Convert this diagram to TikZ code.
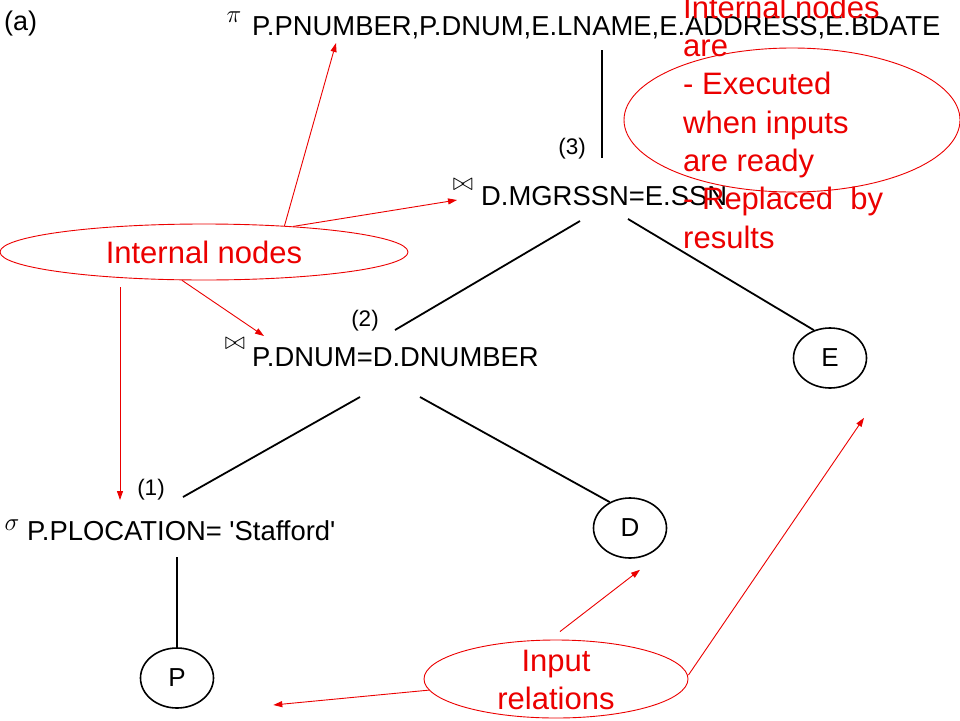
\documentclass[tikz,border=0pt]{standalone}
\usepackage{fontspec}
\setmainfont{Liberation Sans}
\usetikzlibrary{shapes.geometric,arrows.meta}
\definecolor{notered}{RGB}{235,0,0}

\begin{document}
\begin{tikzpicture}[x=1pt,y=-1pt,
    optext/.style={anchor=base west,inner sep=0pt,font=\fontsize{27.4}{31}\selectfont},
    opsym/.style={inner sep=0pt,font=\fontsize{25}{28}\selectfont},
    steplabel/.style={inner sep=0pt,font=\fontsize{22.5}{25}\selectfont},
    relnode/.style={draw,line width=1.6pt,ellipse,minimum width=73pt,minimum height=60pt,inner sep=0pt,font=\fontsize{26}{29}\selectfont},
    treeline/.style={line width=1.8pt},
    notetext/.style={text=notered,font=\fontsize{31}{38.3}\selectfont},
    noteshape/.style={draw=notered,line width=0.9pt,ellipse,inner sep=0pt},
    notearrow/.style={draw=notered,line width=0.9pt,-{Triangle[length=9pt,width=6pt]}}]
    \useasboundingbox (0,0) rectangle (960,720);

    % Query tree
    \node[anchor=base west,inner sep=0pt,font=\fontsize{27}{30}\selectfont] (fig) at (4,30) {(a)};
    \node[optext] (proj) at (252,35) {P.PNUMBER,P.DNUM,E.LNAME,E.ADDRESS,E.BDATE};
    \node[opsym] (projsym) at (234,17) {$\pi$};
    \node[optext] (joinB) at (481,205) {D.MGRSSN=E.SSN};
    \node[opsym] (joinBsym) at (463,185) {$\bowtie$};
    \node[optext] (joinA) at (252,366) {P.DNUM=D.DNUMBER};
    \node[opsym] (joinAsym) at (235,344) {$\bowtie$};
    \node[optext] (sel) at (27,540) {P.PLOCATION= \textquotesingle Stafford\textquotesingle};
    \node[opsym] (selsym) at (12,525) {$\sigma$};
    \node[steplabel] (lab3) at (572,149) {(3)};
    \node[steplabel] (lab2) at (365,321) {(2)};
    \node[steplabel] (lab1) at (151,490) {(1)};
    \node[relnode] (E) at (830,358) {E};
    \node[relnode] (D) at (630,528) {D};
    \node[relnode] (P) at (177,678) {P};

    \draw[treeline] ([xshift=350pt,yshift=-15pt]proj.base west) -- ([xshift=121pt,yshift=47pt]joinB.base west);
    \draw[treeline] ([xshift=99pt,yshift=-16pt]joinB.base west) -- ([xshift=143pt,yshift=36pt]joinA.base west);
    \draw[treeline] ([xshift=147pt,yshift=-14pt]joinB.base west) -- (E.120);
    \draw[treeline] ([xshift=108pt,yshift=-31pt]joinA.base west) -- ([xshift=156pt,yshift=43pt]sel.base west);
    \draw[treeline] ([xshift=168pt,yshift=-31pt]joinA.base west) -- (D.128);
    \draw[treeline] ([xshift=150pt,yshift=-17pt]sel.base west) -- (P);

    % Notes
    \node[noteshape,notetext,minimum width=408pt,minimum height=56pt] (intnodes) at (204,252) {Internal nodes};
    \node[noteshape,minimum width=336pt,minimum height=144pt] (readyshape) at (792,120) {};
    \node[notetext,align=left,anchor=north west,inner sep=0pt] (readynote) at (683,-4.4)
        {Internal nodes\\are\\- Executed\\when inputs\\are ready\\- Replaced\ \ by\\results};
    \node[noteshape,minimum width=264pt,minimum height=78pt] (inputs) at (556,679) {};
    \node[notetext,align=center,inner sep=0pt] (inputstext) at (556,680) {Input\\relations};

    \draw[notearrow] (intnodes.18.6) -- ([xshift=84pt,yshift=-8pt]proj.base west);
    \draw[notearrow] (intnodes.16.9) -- ([xshift=-24pt,yshift=5pt]joinB.base west);
    \draw[notearrow] (intnodes.232.6) -- ([xshift=12pt,yshift=30pt]joinA.base west);
    \draw[notearrow] ([xshift=-84pt,yshift=-35pt]intnodes.center) -- ([xshift=93pt,yshift=40pt]sel.base west);
    \draw[notearrow] (inputs.185.3) -- ([xshift=59pt,yshift=-27pt]P.east);
    \draw[notearrow] ([xshift=4pt,yshift=8pt]inputs.north) -- ([xshift=10pt,yshift=-11pt]D.south);
    \draw[notearrow] ([yshift=4pt]inputs.east) -- ([xshift=34pt,yshift=-29pt]E.south);
  \end{tikzpicture}
\end{document}
